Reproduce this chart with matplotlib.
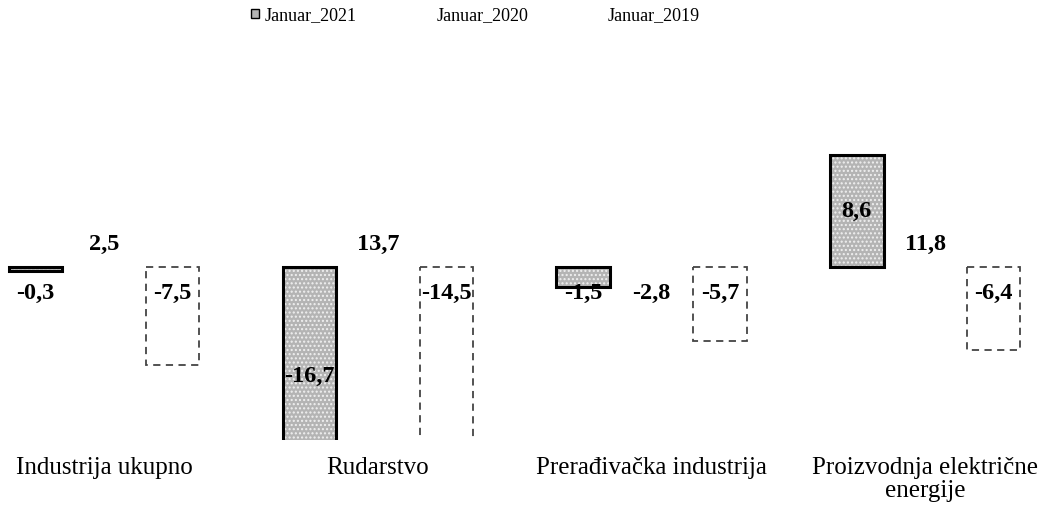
import matplotlib.pyplot as plt
import numpy as np
from matplotlib.patches import Patch

plt.rcParams['font.family'] = ['Liberation Serif', 'DejaVu Serif']
plt.rcParams['hatch.linewidth'] = 1.0

# data
categories = ["Industrija ukupno", "Rudarstvo", "Prerađivačka industrija",
              "Proizvodnja električne\nenergije"]
jan_2021 = [-0.3, -16.7, -1.5, 8.6]
jan_2020 = [2.5, 13.7, -2.8, 11.8]
jan_2019 = [-7.5, -14.5, -5.7, -6.4]
series_names = ["Januar_2021", "Januar_2020", "Januar_2019"]


def lab(v):
	return f"{v:.1f}".replace(".", ",")


fig = plt.figure(figsize=(10.43, 5.11), dpi=100)
ax = fig.add_axes([0, 71 / 511, 1, 380 / 511])

x = np.arange(len(categories))
off = 0.25
w = 0.195
ymin, ymax = -13.3, 15.92

# Januar_2021 : gray stipple, black frame
ax.bar(x - off, jan_2021, w, color="#b4b4b4", edgecolor="#f0f0f0", hatch="....", linewidth=0)
ax.bar(x - off, jan_2021, w, fill=False, edgecolor="black", linewidth=2.2)
# Januar_2020 : invisible bars
ax.bar(x, jan_2020, w, color="white", linewidth=0)
# Januar_2019 : white with dashed frame
ax.bar(x + off, jan_2019, w, color="white", edgecolor="#444444", linewidth=1.3,
       linestyle=(0, (4, 3)))

fs = 17.5
for i, v in enumerate(jan_2021):
	if abs(v) > 5:
		y = np.clip(v, ymin, ymax) / 2
		if v < ymin:
			y -= 1.8
	else:
		y = -2.0
	ax.text(x[i] - off, y, lab(v), ha="center", va="center", fontsize=fs, fontweight="bold")
for i, v in enumerate(jan_2020):
	y = 1.7 if v > 0 else -2.0
	ax.text(x[i], y, lab(v), ha="center", va="center", fontsize=fs, fontweight="bold")
for i, v in enumerate(jan_2019):
	ax.text(x[i] + off, -2.0, lab(v), ha="center", va="center", fontsize=fs, fontweight="bold")

ax.set_xlim(-0.38, 3.43)
ax.set_ylim(ymin, ymax)
ax.set_xticks(x)
ax.set_xticklabels(categories, fontsize=18, linespacing=1.05)
ax.tick_params(axis="x", length=0, pad=12)
ax.set_yticks([])
for s in ax.spines.values():
	s.set_visible(False)

# legend
handles = [Patch(facecolor="#b4b4b4", edgecolor="black", linewidth=1),
           Patch(facecolor="white", edgecolor="white"),
           Patch(facecolor="white", edgecolor="white")]
fig.legend(handles, series_names, loc="upper center", bbox_to_anchor=(0.456, 1.018),
           ncol=3, frameon=False, fontsize=13, handlelength=0.45, handleheight=0.45,
           handletextpad=0.3, columnspacing=3.67)

fig.savefig("out.png", dpi=100)
